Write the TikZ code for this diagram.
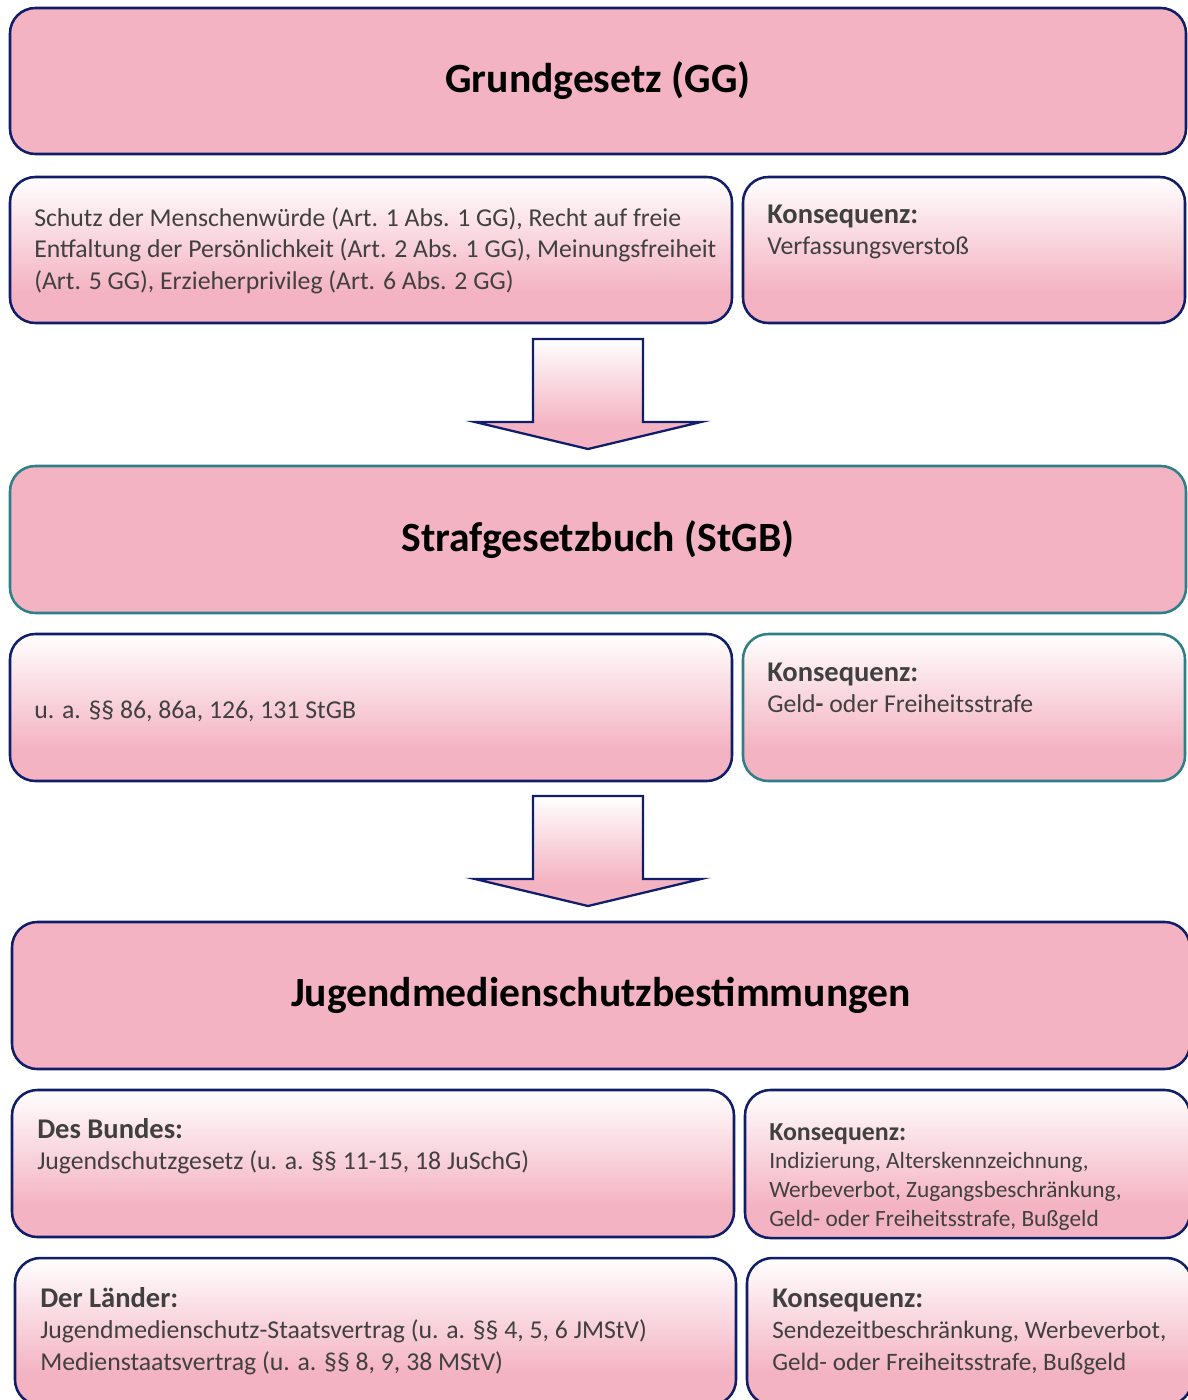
\documentclass[tikz,border=0pt]{standalone}
\usepackage{fontspec}
\setmainfont{Carlito}
\definecolor{pinkc}{HTML}{F4B3C2}
\definecolor{navyc}{HTML}{101E6A}
\definecolor{tealc}{HTML}{2E7F88}
\definecolor{txtc}{HTML}{404040}
\newcommand{\hdbig}[1]{{\fontsize{21.4}{23.7}\selectfont\bfseries #1}}
\newcommand{\hdsmall}[1]{{\fontsize{19.4}{21.6}\selectfont\bfseries #1}}
\pgfdeclareverticalshading{pinkgrad}{100bp}{color(0bp)=(pinkc); color(25bp)=(pinkc); color(36bp)=(pinkc); color(75bp)=(white); color(100bp)=(white)}
\tikzset{
  boxbase/.style={draw=navyc, line width=1.9pt, rounded corners=19pt, inner sep=0pt},
  solidbox/.style={boxbase, fill=pinkc},
  gradbox/.style={boxbase, shade, shading=pinkgrad},
  tealline/.style={draw=tealc},
  arrowshape/.style={draw=navyc, line width=1.7pt, shade, shading=pinkgrad, line join=miter},
  titletxt/.style={inner sep=0pt, text=black, font=\fontsize{31.2}{37}\selectfont\bfseries},
  bodytxt/.style={anchor=base west, inner sep=0pt, align=left, text=txtc, font=\fontsize{19.3}{23.7}\selectfont},
  bodytxtb/.style={anchor=base west, inner sep=0pt, align=left, text=txtc, font=\fontsize{18.8}{23.7}\selectfont},
  smalltxt/.style={anchor=base west, inner sep=0pt, align=left, text=txtc, font=\fontsize{17.5}{21.6}\selectfont},
}
\begin{document}
\begin{tikzpicture}[x=0.75pt, y=-0.75pt]
\useasboundingbox (0,0) rectangle (1188,1400);
% row 1
\node[solidbox, minimum width=882pt, minimum height=109.5pt] (gg) at (598,81) {};
\node[titletxt] (ggt) at (gg.center) {Grundgesetz (GG)};
\node[gradbox, minimum width=541.5pt, minimum height=109.5pt] (ggl) at (371,250) {};
\node[gradbox, minimum width=331.5pt, minimum height=109.5pt] (ggr) at (964,250) {};
\node[bodytxt] (gglt) at (34,289.2) {Schutz der Menschenwürde (Art. 1 Abs. 1 GG), Recht auf freie\\Entfaltung der Persönlichkeit (Art. 2 Abs. 1 GG), Meinungsfreiheit\\(Art. 5 GG), Erzieherprivileg (Art. 6 Abs. 2 GG)};
\node[bodytxt] (ggrt) at (767,254.6) {\hdbig{Konsequenz:}\\Verfassungsverstoß};
% arrow 1
\shade[arrowshape] (533,339) -- (643,339) -- (643,422) -- (701,422) -- (588,449) -- (475,422) -- (533,422) -- cycle;
% row 2
\node[solidbox, tealline, minimum width=882pt, minimum height=110.25pt] (stgb) at (598,539.5) {};
\node[titletxt] (stgbt) at (stgb.center) {Strafgesetzbuch (StGB)};
\node[gradbox, minimum width=541.5pt, minimum height=110.25pt] (stgbl) at (371,707.5) {};
\node[gradbox, tealline, minimum width=331.5pt, minimum height=110.25pt] (stgbr) at (964,707.5) {};
\node[bodytxt] (stgblt) at (34,718) {u. a. §§ 86, 86a, 126, 131 StGB};
\node[bodytxt] (stgbrt) at (767,712.6) {\hdbig{Konsequenz:}\\Geld\textbf{-} oder Freiheitsstrafe};
% arrow 2
\shade[arrowshape] (533,796) -- (643,796) -- (643,879) -- (701,879) -- (588,906) -- (475,879) -- (533,879) -- cycle;
% row 3
\node[solidbox, minimum width=883.5pt, minimum height=110.25pt] (jms) at (601,995.5) {};
\node[titletxt] (jmst) at (jms.center) {Jugendmedienschutzbestimmungen};
\node[gradbox, minimum width=541.5pt, minimum height=110.25pt] (bund) at (373,1163.5) {};
\node[gradbox, minimum width=333.75pt, minimum height=111pt] (bundk) at (967.5,1164) {};
\node[bodytxt] (bundt) at (37,1169.6) {\hdbig{Des Bundes:}\\Jugendschutzgesetz (u. a. §§ 11-15, 18 JuSchG)};
\node[smalltxt] (bundkt) at (769,1226.5) {\hdsmall{Konsequenz:}\\Indizierung, Alterskennzeichnung,\\Werbeverbot, Zugangsbeschränkung,\\Geld- oder Freiheitsstrafe, Bußgeld};
\node[gradbox, minimum width=540.75pt, minimum height=110.25pt] (land) at (375.5,1331.5) {};
\node[gradbox, minimum width=333.75pt, minimum height=110.25pt] (landk) at (969.5,1331.5) {};
\node[bodytxt] (landt) at (40,1370.2) {\hdbig{Der Länder:}\\Jugendmedienschutz-Staatsvertrag (u. a. §§ 4, 5, 6 JMStV)\\Medienstaatsvertrag (u. a. §§ 8, 9, 38 MStV)};
\node[bodytxtb] (landkt) at (772,1370.2) {\hdbig{Konsequenz:}\\Sendezeitbeschränkung, Werbeverbot,\\Geld- oder Freiheitsstrafe, Bußgeld};
\end{tikzpicture}
\end{document}
